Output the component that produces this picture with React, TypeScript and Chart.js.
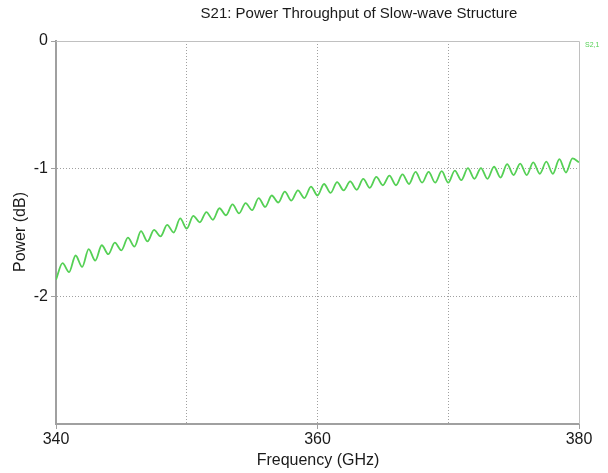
import React, { useEffect, useRef } from "react";
import { Chart, registerables } from "chart.js";

Chart.register(...registerables);

const frequencyGHz = [
  340.0, 340.5, 341.0, 341.5, 342.0, 342.5, 343.0, 343.5, 344.0, 344.5,
  345.0, 345.5, 346.0, 346.5, 347.0, 347.5, 348.0, 348.5, 349.0, 349.5,
  350.0, 350.5, 351.0, 351.5, 352.0, 352.5, 353.0, 353.5, 354.0, 354.5,
  355.0, 355.5, 356.0, 356.5, 357.0, 357.5, 358.0, 358.5, 359.0, 359.5,
  360.0, 360.5, 361.0, 361.5, 362.0, 362.5, 363.0, 363.5, 364.0, 364.5,
  365.0, 365.5, 366.0, 366.5, 367.0, 367.5, 368.0, 368.5, 369.0, 369.5,
  370.0, 370.5, 371.0, 371.5, 372.0, 372.5, 373.0, 373.5, 374.0, 374.5,
  375.0, 375.5, 376.0, 376.5, 377.0, 377.5, 378.0, 378.5, 379.0, 379.5,
  380.0,
];

const s21dB = [
  -1.87, -1.74, -1.81, -1.68, -1.77, -1.63, -1.72, -1.6, -1.67, -1.58,
  -1.64, -1.54, -1.61, -1.49, -1.57, -1.48, -1.53, -1.44, -1.5, -1.39,
  -1.47, -1.37, -1.42, -1.34, -1.4, -1.31, -1.365, -1.28, -1.35, -1.27,
  -1.325, -1.23, -1.3, -1.21, -1.265, -1.18, -1.25, -1.17, -1.23, -1.14,
  -1.21, -1.12, -1.19, -1.105, -1.17, -1.1, -1.165, -1.08, -1.15, -1.065,
  -1.13, -1.055, -1.13, -1.045, -1.12, -1.025, -1.11, -1.025, -1.11, -1.02,
  -1.11, -1.015, -1.09, -0.995, -1.08, -0.995, -1.08, -0.985, -1.07, -0.965,
  -1.05, -0.96, -1.05, -0.95, -1.04, -0.945, -1.04, -0.925, -1.03, -0.92,
  -0.95,
];

const xTickLabels = ["340", "360", "380"];
const yTickLabels = ["0", "-1", "-2"];

const TITLE = "S21: Power Throughput of Slow-wave Structure";
const X_TITLE = "Frequency (GHz)";
const Y_TITLE = "Power (dB)";
const SERIES_LABEL = "S2,1";
const LINE_COLOR = "#55d055";
const FONT = "'Liberation Sans', Arial, sans-serif";

export default function App() {
  const ref = useRef<HTMLCanvasElement | null>(null);

  useEffect(() => {
    if (!ref.current) return;
    const overlay = {
      id: "overlay",
      afterDraw(chart: any) {
        const { ctx, chartArea } = chart;
        ctx.save();
        ctx.strokeStyle = "#c0c0c0";
        ctx.lineWidth = 1;
        ctx.beginPath();
        ctx.moveTo(chartArea.left, chartArea.top + 0.5);
        ctx.lineTo(chartArea.right + 0.5, chartArea.top + 0.5);
        ctx.lineTo(chartArea.right + 0.5, chartArea.bottom);
        ctx.stroke();

        ctx.fillStyle = "#1a1a1a";
        ctx.textAlign = "center";
        ctx.textBaseline = "middle";
        ctx.font = `15px ${FONT}`;
        ctx.fillText(TITLE, 359, 14);
        ctx.font = `16px ${FONT}`;
        ctx.fillText(X_TITLE, 318, 461);
        ctx.save();
        ctx.translate(21, 232);
        ctx.rotate(-Math.PI / 2);
        ctx.fillText(Y_TITLE, 0, 0);
        ctx.restore();

        ctx.fillStyle = LINE_COLOR;
        ctx.textAlign = "left";
        ctx.font = `7px ${FONT}`;
        ctx.fillText(SERIES_LABEL, 585, 45);
        ctx.restore();
      },
    };

    const chart = new Chart(ref.current, {
      type: "line",
      data: {
        labels: frequencyGHz,
        datasets: [
          {
            label: SERIES_LABEL,
            data: frequencyGHz.map((f, i) => ({ x: f, y: s21dB[i] })),
            borderColor: LINE_COLOR,
            borderWidth: 1.8,
            pointRadius: 0,
            cubicInterpolationMode: "monotone",
            fill: false,
          },
        ],
      },
      options: {
        animation: false,
        responsive: false,
        devicePixelRatio: 1,
        layout: { padding: { left: 0, top: 41, right: 29, bottom: 0 } },
        plugins: {
          legend: { display: false },
          title: { display: false },
          tooltip: { enabled: false },
        },
        scales: {
          x: {
            type: "linear",
            min: 340,
            max: 380,
            afterFit: (s: any) => {
              s.height = 49;
            },
            afterBuildTicks: (s: any) => {
              s.ticks = [340, 350, 360, 370, 380].map((v) => ({ value: v }));
            },
            ticks: {
              autoSkip: false,
              maxRotation: 0,
              padding: 1,
              color: "#1a1a1a",
              font: { family: FONT, size: 16 },
              callback: (v: any) => {
                const s = String(v);
                return xTickLabels.includes(s) ? s : "";
              },
            },
            grid: {
              color: (c: any) =>
                c.tick && (c.tick.value === 340 || c.tick.value === 380)
                  ? "rgba(0,0,0,0)"
                  : "#a0a0a0",
              tickColor: (c: any) =>
                c.tick && xTickLabels.includes(String(c.tick.value))
                  ? "#a0a0a0"
                  : "rgba(0,0,0,0)",
              tickLength: 5,
              lineWidth: 1,
            } as any,
            border: { display: true, color: "#a0a0a0", width: 2, dash: [1, 2] } as any,
          },
          y: {
            type: "linear",
            min: -3,
            max: 0,
            afterFit: (s: any) => {
              s.width = 56;
            },
            afterBuildTicks: (s: any) => {
              s.ticks = [-3, -2, -1, 0].map((v) => ({ value: v }));
            },
            ticks: {
              padding: 3,
              color: "#1a1a1a",
              font: { family: FONT, size: 16 },
              callback: (v: any) => {
                const s = String(v);
                return yTickLabels.includes(s) ? s : "";
              },
            },
            grid: {
              color: (c: any) =>
                c.tick && (c.tick.value === 0 || c.tick.value === -3)
                  ? "rgba(0,0,0,0)"
                  : "#a0a0a0",
              tickColor: (c: any) =>
                c.tick && yTickLabels.includes(String(c.tick.value))
                  ? "#a0a0a0"
                  : "rgba(0,0,0,0)",
              tickLength: 5,
              lineWidth: 1,
            } as any,
            border: { display: true, color: "#a0a0a0", width: 2, dash: [1, 2] } as any,
          },
        },
      } as any,
      plugins: [overlay],
    });
    return () => chart.destroy();
  }, []);

  return (
    <div style={{ position: "fixed", left: 0, top: 0, width: 608, height: 473, background: "#fff" }}>
      <canvas ref={ref} width={608} height={473} />
    </div>
  );
}
